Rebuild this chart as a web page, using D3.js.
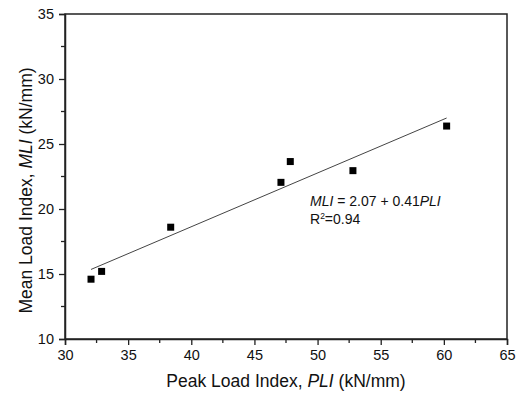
<!DOCTYPE html>
<html>
<head>
<meta charset="utf-8">
<script src="https://cdn.jsdelivr.net/npm/d3@7"></script>
<style>
  body { margin: 0; background: #fff; }
  text { font-family: "Liberation Sans", Arial, sans-serif; fill: #111; }
</style>
</head>
<body>
<svg id="chart" width="522" height="393"></svg>
<script>
// data
const peakLoad = [32.06, 32.9, 38.37, 47.1, 47.84, 52.8, 60.22];
const meanLoad = [14.6, 15.2, 18.6, 22.05, 23.65, 22.95, 26.38];
const fitX = [32.06, 60.22];
const fitY = [15.35, 27.0];
const xTicks = [30, 35, 40, 45, 50, 55, 60, 65];
const yTicks = [10, 15, 20, 25, 30, 35];

const svg = d3.select("#chart");
const m = { left: 65, right: 507, top: 14, bottom: 339 };

const x = d3.scaleLinear().domain([30, 65]).range([m.left, m.right]);
const y = d3.scaleLinear().domain([10, 35]).range([m.bottom, m.top]);

// frame
svg.append("rect")
  .attr("x", m.left).attr("y", m.top)
  .attr("width", m.right - m.left).attr("height", m.bottom - m.top)
  .attr("fill", "none").attr("stroke", "#222").attr("stroke-width", 1.5);

// minor ticks
const minorX = d3.range(32.5, 65, 5);
const minorY = d3.range(12.5, 35, 5);

const xAxis = svg.append("g").attr("transform", `translate(0,${m.bottom})`)
  .call(d3.axisBottom(x).tickValues(xTicks).tickSize(6).tickPadding(5).tickFormat(d3.format("d")));
xAxis.append("g").selectAll("line").data(minorX).join("line")
  .attr("x1", d => x(d)).attr("x2", d => x(d)).attr("y1", 0).attr("y2", 4);

const yAxis = svg.append("g").attr("transform", `translate(${m.left},0)`)
  .call(d3.axisLeft(y).tickValues(yTicks).tickSize(6).tickPadding(5).tickFormat(d3.format("d")));
yAxis.append("g").selectAll("line").data(minorY).join("line")
  .attr("x1", 0).attr("x2", -4).attr("y1", d => y(d)).attr("y2", d => y(d));

[xAxis, yAxis].forEach(g => {
  g.select(".domain").attr("stroke", "#222").attr("stroke-width", 1.5);
  g.selectAll("line").attr("stroke", "#222").attr("stroke-width", 1.3);
  g.selectAll("text").style("font-size", "14.5px")
    .style("font-family", "'Liberation Sans', Arial, sans-serif").attr("fill", "#111");
});

// fit line
svg.append("line")
  .attr("x1", x(fitX[0])).attr("y1", y(fitY[0]))
  .attr("x2", x(fitX[1])).attr("y2", y(fitY[1]))
  .attr("stroke", "#444").attr("stroke-width", 1);

// points
const sq = 7;
svg.append("g").selectAll("rect").data(peakLoad).join("rect")
  .attr("x", (d, i) => x(d) - sq / 2)
  .attr("y", (d, i) => y(meanLoad[i]) - sq / 2)
  .attr("width", sq).attr("height", sq).attr("fill", "#000");

// equation
const eq = svg.append("text").attr("x", 310).attr("y", 206).style("font-size", "14px");
eq.append("tspan").attr("font-style", "italic").text("MLI");
eq.append("tspan").text(" = 2.07 + 0.41");
eq.append("tspan").attr("font-style", "italic").text("PLI");

const r2 = svg.append("text").attr("x", 310).attr("y", 224).style("font-size", "14px");
r2.append("tspan").text("R");
r2.append("tspan").attr("dy", -5).style("font-size", "8.5px").text("2");
r2.append("tspan").attr("dy", 5).text("=0.94");

// axis titles
const xt = svg.append("text").attr("x", (m.left + m.right) / 2).attr("y", 387)
  .attr("text-anchor", "middle").style("font-size", "17.5px");
xt.append("tspan").text("Peak Load Index, ");
xt.append("tspan").attr("font-style", "italic").text("PLI");
xt.append("tspan").text(" (kN/mm)");

const yt = svg.append("text")
  .attr("transform", `translate(32,${(m.top + m.bottom) / 2 + 14}) rotate(-90)`)
  .attr("text-anchor", "middle").style("font-size", "17.5px");
yt.append("tspan").text("Mean Load Index, ");
yt.append("tspan").attr("font-style", "italic").text("MLI");
yt.append("tspan").text(" (kN/mm)");
</script>
</body>
</html>
